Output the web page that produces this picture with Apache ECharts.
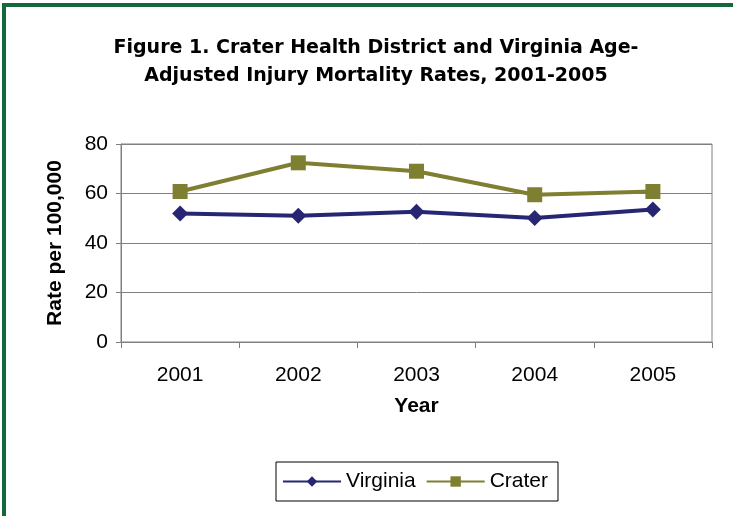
<!DOCTYPE html>
<html>
<head>
<meta charset="utf-8">
<script src="https://cdn.jsdelivr.net/npm/echarts@6/dist/echarts.min.js"></script>
<style>
html,body{margin:0;padding:0;background:#fff;}
#wrap{position:relative;width:733px;height:516px;}
#chart{position:absolute;left:0;top:0;width:733px;height:516px;}
#frame{position:absolute;left:2px;top:3px;width:740px;height:520px;border-left:4px solid #15683a;border-top:4px solid #15683a;pointer-events:none;}
</style>
</head>
<body>
<div id="wrap"><div id="chart"></div><div id="frame"></div></div>
<script>
const years = ['2001', '2002', '2003', '2004', '2005'];
const virginia = [51.9, 51.0, 52.6, 50.1, 53.5];
const crater = [60.8, 72.4, 69.0, 59.5, 60.8];
const yTicks = [0, 20, 40, 60, 80];

const chart = echarts.init(document.getElementById('chart'));
const font = 'Liberation Sans, Arial, sans-serif';
chart.setOption({
  animation: false,
  backgroundColor: '#fff',
  textStyle: { fontFamily: font },
  title: {
    text: 'Figure 1. Crater Health District and Virginia Age-\nAdjusted Injury Mortality Rates, 2001-2005',
    left: 371, top: 29, textAlign: 'center',
    textStyle: { fontFamily: 'DejaVu Sans, sans-serif', fontSize: 19, fontWeight: 'bold', color: '#000', lineHeight: 28 }
  },
  grid: { left: 121, right: 21, top: 144, bottom: 174, show: true, borderColor: '#808080', borderWidth: 1 },
  legend: {
    left: 276, top: 462,
    orient: 'horizontal',
    borderColor: '#000', borderWidth: 1,
    padding: [9, 10, 9, 6],
    itemWidth: 58, itemHeight: 13, itemGap: 10,
    textStyle: { fontFamily: font, fontSize: 21, color: '#000' },
    data: ['Virginia', 'Crater']
  },
  xAxis: {
    type: 'category', data: years, boundaryGap: true,
    name: 'Year', nameLocation: 'middle', nameGap: 54,
    nameTextStyle: { fontFamily: font, fontSize: 21, fontWeight: 'bold', color: '#000' },
    axisLine: { show: true, lineStyle: { color: '#808080', width: 1 } },
    axisTick: { show: true, length: 6, lineStyle: { color: '#808080' } },
    axisLabel: { fontFamily: font, fontSize: 21, color: '#000', margin: 23 },
    splitLine: { show: false }
  },
  yAxis: {
    type: 'value', min: 0, max: 80, interval: 20,
    name: 'Rate per 100,000', nameLocation: 'middle', nameGap: 55, nameRotate: 90,
    nameTextStyle: { fontFamily: font, fontSize: 21, fontWeight: 'bold', color: '#000' },
    axisLine: { show: true, lineStyle: { color: '#808080', width: 1 } },
    axisTick: { show: true, length: 5, lineStyle: { color: '#808080' } },
    axisLabel: { fontFamily: font, fontSize: 21, color: '#000', margin: 13,
      formatter: v => yTicks.includes(v) ? String(v) : '' },
    splitLine: { show: true, lineStyle: { color: '#808080', width: 1 } }
  },
  series: [
    {
      name: 'Virginia', type: 'line', data: virginia,
      symbol: 'diamond', symbolSize: 16,
      lineStyle: { color: '#262673', width: 4 },
      itemStyle: { color: '#262673' }
    },
    {
      name: 'Crater', type: 'line', data: crater,
      symbol: 'rect', symbolSize: 15,
      lineStyle: { color: '#7f7f32', width: 4 },
      itemStyle: { color: '#7f7f32' }
    }
  ]
});
</script>
</body>
</html>
